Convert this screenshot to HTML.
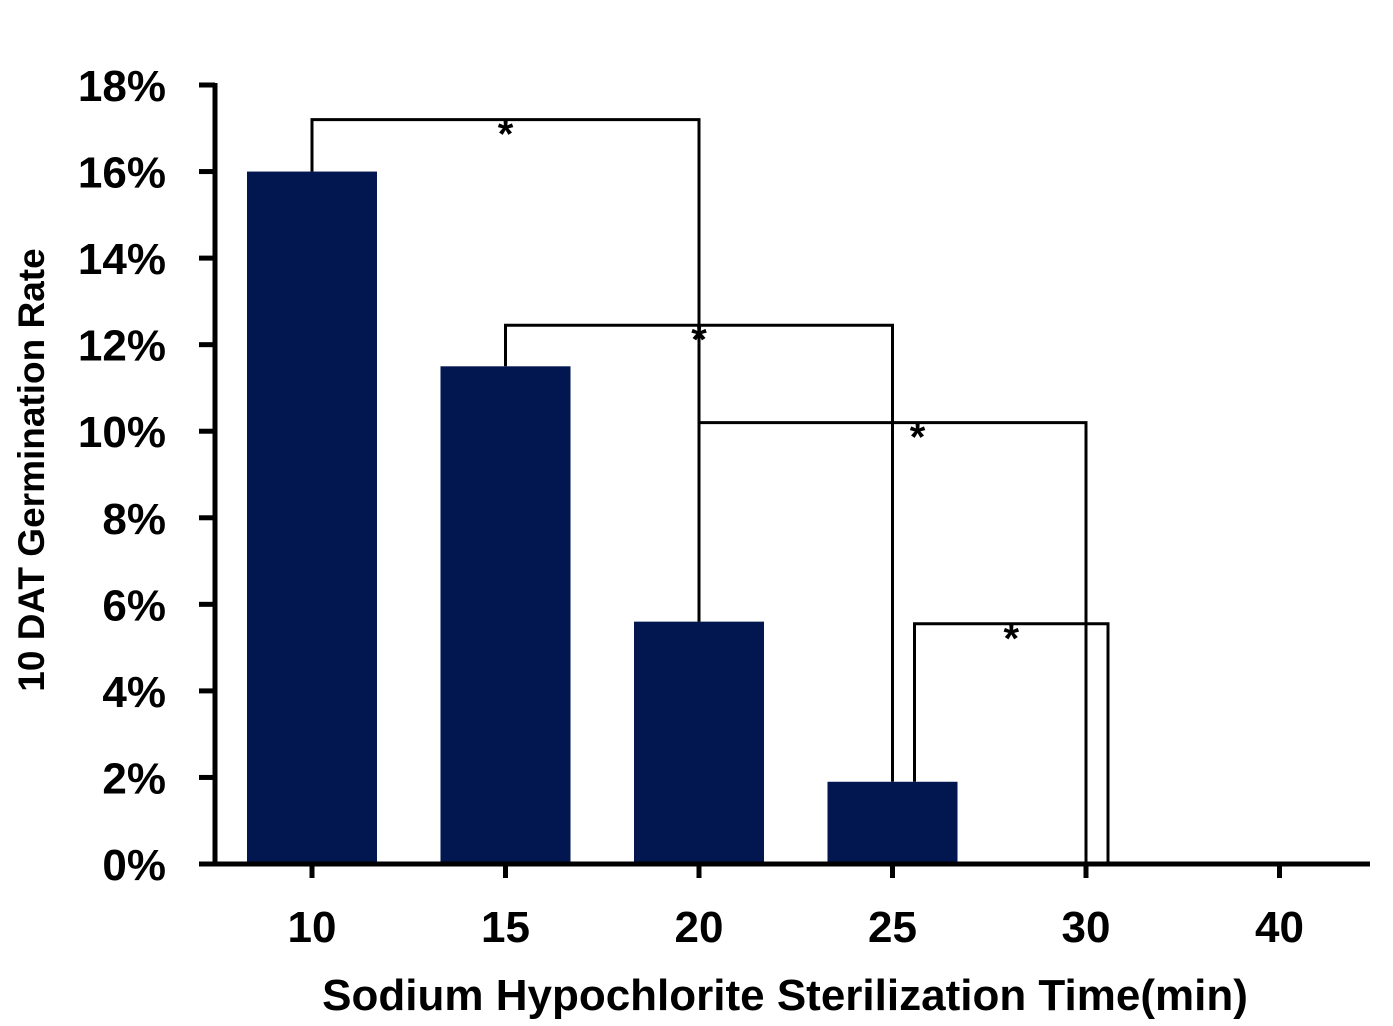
<!DOCTYPE html>
<html><head><meta charset="utf-8"><style>
html,body{margin:0;padding:0;background:#fff;}
svg{display:block;font-family:"Liberation Sans",Arial,sans-serif;font-weight:bold;}
</style></head><body>
<svg id="chart" width="1393" height="1026" viewBox="0 0 1393 1026" xmlns="http://www.w3.org/2000/svg">
<g id="bars"></g>
<g id="brackets"></g>
<g id="axes"></g>
<text transform="translate(44,470) rotate(-90)" text-anchor="middle" font-size="37">10 DAT Germination Rate</text>
<text x="785" y="1010" text-anchor="middle" font-size="44">Sodium Hypochlorite Sterilization Time(min)</text>
</svg>
<script>
const categories = ["10","15","20","25","30","40"];
const values = [16.0, 11.5, 5.6, 1.9, 0, 0];
const yTicks = [0,2,4,6,8,10,12,14,16,18];
const yTickLabels = ["0%","2%","4%","6%","8%","10%","12%","14%","16%","18%"];
// brackets: [fromIndex, toIndex, bracketHeight(%), leftOffsetPx-free values]
const bracketFrom = [0, 1, 2, 3];
const bracketTo = [2, 3, 4, 4];
const bracketLevel = [17.2, 12.45, 10.2, 5.55];
const bracketLeftStart = [16.0, 11.5, 5.6, 1.9];
const bracketRightEnd = [5.6, 1.9, 0, 0];

const NS="http://www.w3.org/2000/svg";
const x0=215, xEnd=1370, y0=864, yTop=85, yMax=18;
const step=193.5, first=312;
const xs = i => first + i*step;
const ys = v => y0 - v*(y0-yTop)/yMax;
function mk(tag, attrs, parent){const e=document.createElementNS(NS,tag);for(const k in attrs)e.setAttribute(k,attrs[k]);parent.appendChild(e);return e;}
const gb=document.getElementById('bars'), gk=document.getElementById('brackets'), ga=document.getElementById('axes');
values.forEach((v,i)=>{
  if(v<=0) return;
  const r=mk('rect',{x:xs(i)-65,y:ys(v),width:130,height:y0-ys(v),fill:'#021650'},gb);
  
  
});
bracketFrom.forEach((f,j)=>{
  const t=bracketTo[j];
  const off = j===3 ? 22 : 0;
  const xa=xs(f)+off, xb=xs(t)+off, yl=ys(bracketLevel[j]);
  const p=mk('path',{d:`M${xa},${ys(bracketLeftStart[j])}V${yl}H${xb}V${ys(bracketRightEnd[j])}`,fill:'none',stroke:'#000','stroke-width':3},gk);
  
  
  const s=mk('text',{x:(xa+xb)/2+(j===2?25:0)-(j===0?0:0),y:yl+30-2,'text-anchor':'middle','font-size':40},gk);
  s.textContent='*';
  
  
});
const ya=mk('line',{x1:x0,y1:yTop-2,x2:x0,y2:y0+2,stroke:'#000','stroke-width':5},ga);


const xa=mk('line',{x1:199,y1:y0,x2:xEnd,y2:y0,stroke:'#000','stroke-width':5},ga);


yTicks.forEach((t,i)=>{
  mk('line',{x1:199,y1:ys(t),x2:x0,y2:ys(t),stroke:'#000','stroke-width':5},ga);
  const l=mk('text',{x:166,y:ys(t)+16,'text-anchor':'end','font-size':44},ga);
  l.textContent=yTickLabels[i];
  
  
});
categories.forEach((c,i)=>{
  mk('line',{x1:xs(i),y1:y0,x2:xs(i),y2:y0+14,stroke:'#000','stroke-width':5},ga);
  const l=mk('text',{x:xs(i),y:942,'text-anchor':'middle','font-size':44},ga);
  l.textContent=c;
  
  
});
</script>
</body></html>
